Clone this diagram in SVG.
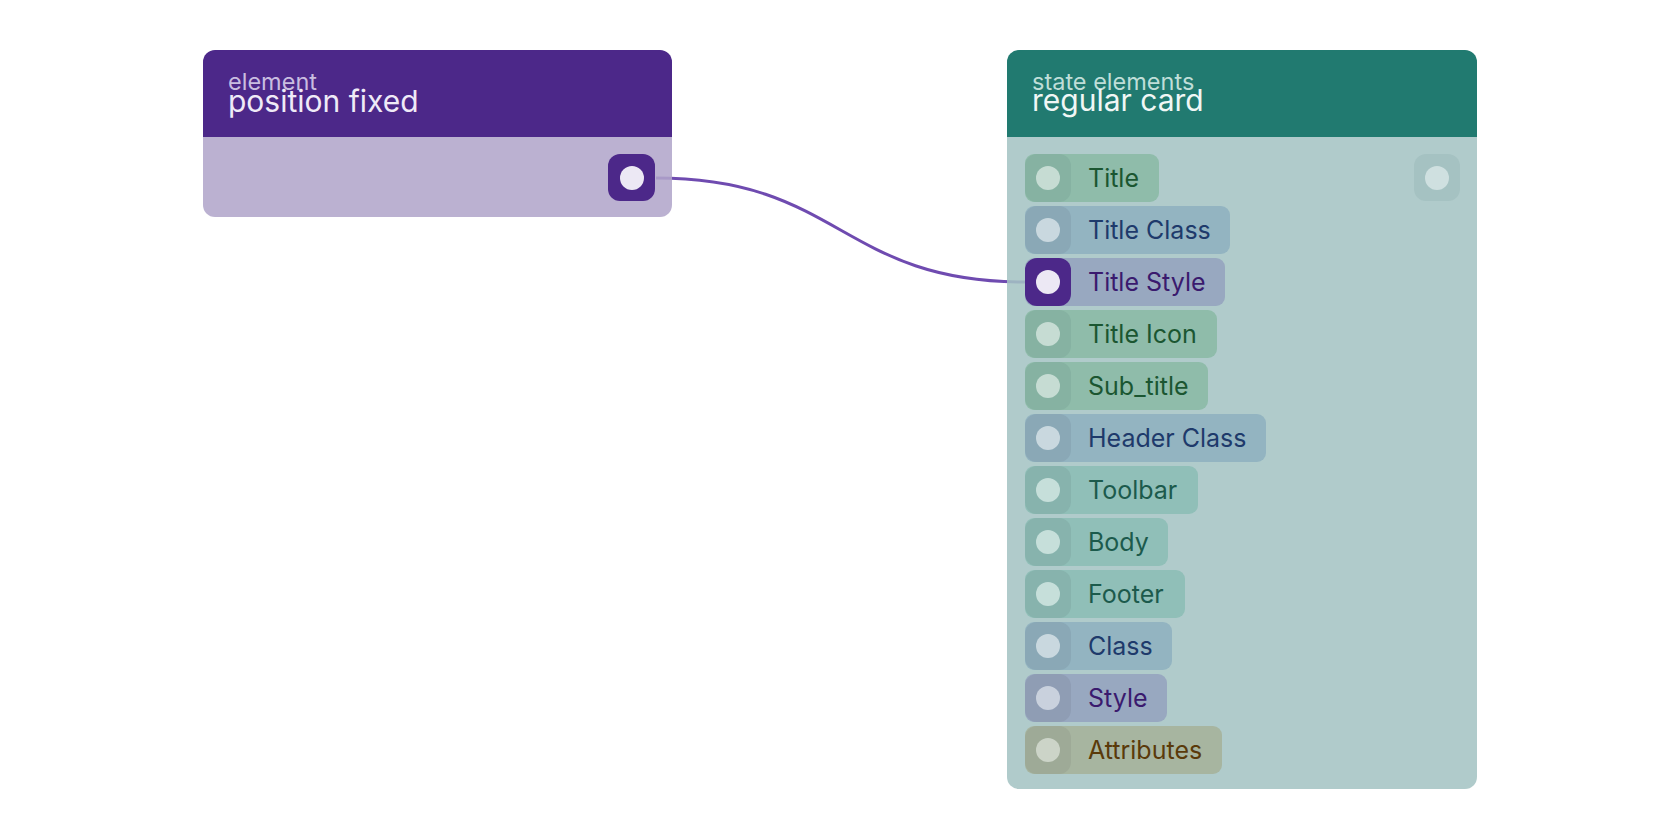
<svg xmlns="http://www.w3.org/2000/svg" width="1680" height="840" viewBox="0 0 1680 840">
<style>
text { font-family: Inter, "Noto Sans", "Liberation Sans", sans-serif; }
.sub { font-size: 23.5px; }
.ttl { font-size: 30px; }
.lbl { font-size: 25px; }
.edge { fill: none; stroke: #6f4bb0; stroke-width: 3; }
.g .chip { fill: #8fbcaa; } .g .hd { fill: #86b2a2; } .g .dot { fill: #c6dcd3; } .g text { fill: #1b5631; }
.b .chip { fill: #93b4c1; } .b .hd { fill: #8aa8b6; } .b .dot { fill: #c9d8df; } .b text { fill: #1e3a6b; }
.p .chip { fill: #98a8c0; } .p .hd { fill: #8f9db4; } .p .dot { fill: #c9d1dd; } .p text { fill: #3a1a6e; }
.t .chip { fill: #90bfb8; } .t .hd { fill: #87b3ad; } .t .dot { fill: #c6dfda; } .t text { fill: #1c5a4c; }
.o .chip { fill: #a7b5a0; } .o .hd { fill: #9eaa97; } .o .dot { fill: #ccd4c8; } .o text { fill: #5a3a0a; }
.p .hd.on { fill: #4c2889; } .p .dot.on { fill: #ece8f4; }
</style>
<rect width="1680" height="840" fill="#ffffff"/>
<g id="connectors">
<path class="edge" d="M656,178 C840.5,178 840.5,282 1025,282"/>
</g>
<g id="node-position-fixed">
<path d="M203,137 H672 V205 a12,12 0 0 1 -12,12 H215 a12,12 0 0 1 -12,-12 Z" fill="#b1a5ca" fill-opacity="0.87"/>
<path d="M215,50 H660 a12,12 0 0 1 12,12 V137 H203 V62 a12,12 0 0 1 12,-12 Z" fill="#4c2889"/>
<text class="sub" x="228" y="90" fill="#c9bde0">element</text>
<text class="ttl" x="228" y="112" fill="#efeaf7">position fixed</text>
<rect x="608" y="154" width="47" height="47" rx="12" fill="#4c2889"/>
<circle cx="632" cy="178" r="12" fill="#ece8f4"/>
</g>
<g id="node-regular-card">
<path d="M1007,137 H1477 V777 a12,12 0 0 1 -12,12 H1019 a12,12 0 0 1 -12,-12 Z" fill="#a4c3c3" fill-opacity="0.87"/>
<path d="M1019,50 H1465 a12,12 0 0 1 12,12 V137 H1007 V62 a12,12 0 0 1 12,-12 Z" fill="#217a70"/>
<text class="sub" x="1032" y="90" fill="#bfded8">state elements</text>
<text class="ttl" x="1032" y="111" fill="#f0f7f5">regular card</text>
<rect x="1414" y="154" width="46" height="47" rx="12" fill="#a5c2c2"/>
<circle cx="1437" cy="178" r="12" fill="#cfe0e0"/>
<g id="row-title" class="g"><rect class="chip" x="1025" y="154" width="134" height="48" rx="9"/><rect class="hd" x="1025" y="154" width="46" height="48" rx="12"/><circle class="dot" cx="1048" cy="178" r="12"/><text class="lbl" x="1088" y="187">Title</text></g>
<g id="row-title-class" class="b"><rect class="chip" x="1025" y="206" width="205" height="48" rx="9"/><rect class="hd" x="1025" y="206" width="46" height="48" rx="12"/><circle class="dot" cx="1048" cy="230" r="12"/><text class="lbl" x="1088" y="239">Title Class</text></g>
<g id="row-title-style" class="p"><rect class="chip" x="1025" y="258" width="200" height="48" rx="9"/><rect class="hd on" x="1025" y="258" width="46" height="48" rx="12"/><circle class="dot on" cx="1048" cy="282" r="12"/><text class="lbl" x="1088" y="291">Title Style</text></g>
<g id="row-title-icon" class="g"><rect class="chip" x="1025" y="310" width="192" height="48" rx="9"/><rect class="hd" x="1025" y="310" width="46" height="48" rx="12"/><circle class="dot" cx="1048" cy="334" r="12"/><text class="lbl" x="1088" y="343">Title Icon</text></g>
<g id="row-sub-title" class="g"><rect class="chip" x="1025" y="362" width="183" height="48" rx="9"/><rect class="hd" x="1025" y="362" width="46" height="48" rx="12"/><circle class="dot" cx="1048" cy="386" r="12"/><text class="lbl" x="1088" y="395">Sub_title</text></g>
<g id="row-header-class" class="b"><rect class="chip" x="1025" y="414" width="241" height="48" rx="9"/><rect class="hd" x="1025" y="414" width="46" height="48" rx="12"/><circle class="dot" cx="1048" cy="438" r="12"/><text class="lbl" x="1088" y="447">Header Class</text></g>
<g id="row-toolbar" class="t"><rect class="chip" x="1025" y="466" width="173" height="48" rx="9"/><rect class="hd" x="1025" y="466" width="46" height="48" rx="12"/><circle class="dot" cx="1048" cy="490" r="12"/><text class="lbl" x="1088" y="499">Toolbar</text></g>
<g id="row-body" class="t"><rect class="chip" x="1025" y="518" width="143" height="48" rx="9"/><rect class="hd" x="1025" y="518" width="46" height="48" rx="12"/><circle class="dot" cx="1048" cy="542" r="12"/><text class="lbl" x="1088" y="551">Body</text></g>
<g id="row-footer" class="t"><rect class="chip" x="1025" y="570" width="160" height="48" rx="9"/><rect class="hd" x="1025" y="570" width="46" height="48" rx="12"/><circle class="dot" cx="1048" cy="594" r="12"/><text class="lbl" x="1088" y="603">Footer</text></g>
<g id="row-class" class="b"><rect class="chip" x="1025" y="622" width="147" height="48" rx="9"/><rect class="hd" x="1025" y="622" width="46" height="48" rx="12"/><circle class="dot" cx="1048" cy="646" r="12"/><text class="lbl" x="1088" y="655">Class</text></g>
<g id="row-style" class="p"><rect class="chip" x="1025" y="674" width="142" height="48" rx="9"/><rect class="hd" x="1025" y="674" width="46" height="48" rx="12"/><circle class="dot" cx="1048" cy="698" r="12"/><text class="lbl" x="1088" y="707">Style</text></g>
<g id="row-attributes" class="o"><rect class="chip" x="1025" y="726" width="197" height="48" rx="9"/><rect class="hd" x="1025" y="726" width="46" height="48" rx="12"/><circle class="dot" cx="1048" cy="750" r="12"/><text class="lbl" x="1088" y="759">Attributes</text></g>
</g>
</svg>
